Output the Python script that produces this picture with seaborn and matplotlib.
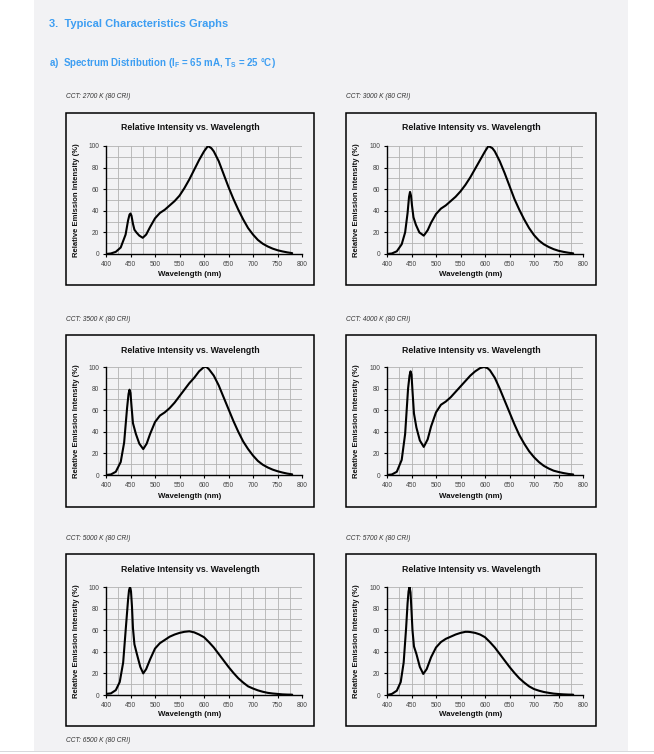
import numpy as np
import pandas as pd
import matplotlib.pyplot as plt
import seaborn as sns
from matplotlib.patches import Rectangle

# ---------------------------------------------------------
# spectra (wavelength nm, relative intensity %)
# ---------------------------------------------------------
wl_2700 = [400, 410, 420, 430, 440, 445, 448, 450, 452, 455, 458, 462, 468, 475, 482, 490, 500, 510, 520, 530,
           540, 550, 560, 570, 580, 590, 600, 608, 615, 620, 630, 640, 650, 660, 670, 680, 690, 700, 710, 720,
           730, 740, 750, 760, 770, 780]
int_2700 = [0, 0.5, 2, 6, 18, 31, 36.5, 37.5, 35.5, 28, 22.5, 20, 17, 15, 18, 25, 33, 38, 41, 45,
            49, 54, 61, 69, 78, 87, 95, 100, 98, 95, 86, 74, 62, 51, 41, 32, 24, 18, 13, 9.5,
            7, 5, 3.5, 2.4, 1.5, 0.8]

wl_3000 = [400, 410, 420, 430, 437, 442, 445, 447, 449, 451, 454, 459, 466, 475, 483, 490, 500, 510, 520, 530,
           540, 550, 560, 570, 580, 590, 600, 607, 615, 620, 630, 640, 650, 660, 670, 680, 690, 700, 710, 720,
           730, 740, 750, 760, 770, 780]
int_3000 = [0, 0.5, 2.5, 9, 20, 38, 53, 57.5, 54, 45, 34, 27, 20, 17, 22, 29, 37, 42, 45, 49,
            53, 58, 64, 71, 79, 87, 95, 100, 98, 95, 86, 75, 63, 51, 41, 32, 24, 17.5, 12.5, 9,
            6.5, 4.5, 3, 2, 1.2, 0.6]

wl_3500 = [400, 410, 420, 430, 437, 443, 446, 448, 450, 452, 455, 461, 468, 476, 483, 490, 500, 510, 520, 530,
           540, 550, 560, 570, 580, 590, 600, 605, 610, 620, 630, 640, 650, 660, 670, 680, 690, 700, 710, 720,
           730, 740, 750, 760, 770, 780]
int_3500 = [0, 0.5, 3, 12, 30, 62, 75, 79, 76, 64, 48, 38, 29, 24, 29, 38, 49, 55, 58, 62,
            67, 73, 79, 85, 90, 96, 100, 100, 98, 92, 83, 72, 61, 50, 40, 31, 24, 18, 13, 9.5,
            7, 5, 3.5, 2.3, 1.3, 0.6]

wl_4000 = [400, 410, 420, 430, 437, 443, 446, 448, 450, 452, 455, 460, 467, 475, 483, 490, 500, 510, 520, 530,
           540, 550, 560, 570, 580, 590, 598, 605, 610, 620, 630, 640, 650, 660, 670, 680, 690, 700, 710, 720,
           730, 740, 750, 760, 770, 780]
int_4000 = [0, 0.5, 3, 14, 38, 80, 92, 96, 93, 78, 57, 44, 32, 26, 33, 45, 58, 65, 68, 72,
            77, 82, 87, 92, 96, 99, 100, 99, 97, 90, 80, 69, 58, 47, 37, 29, 22, 16.5, 12, 8.5,
            6, 4, 2.8, 1.8, 1, 0.5]

wl_5000 = [400, 410, 420, 428, 435, 441, 445, 447, 449, 451, 453, 455, 458, 463, 470, 476, 482, 490, 500, 510,
           520, 530, 540, 550, 560, 570, 580, 590, 600, 610, 620, 630, 640, 650, 660, 670, 680, 690, 700, 710,
           720, 730, 740, 750, 760, 770, 780]
int_5000 = [1, 1.5, 4.5, 12, 30, 65, 88, 97, 100, 96, 82, 62, 47, 38, 26, 20, 24, 33, 43, 48,
            51, 54, 56, 57.5, 58.5, 59, 58, 56, 53.5, 49, 44, 38, 32, 26, 20.5, 15.5, 11.5, 8, 6, 4.3,
            3, 2, 1.4, 1, 0.6, 0.4, 0.3]

wl_5700 = [400, 410, 420, 428, 434, 439, 442, 444, 446, 448, 450, 452, 455, 460, 467, 474, 481, 490, 500, 510,
           520, 530, 540, 550, 560, 565, 570, 580, 590, 600, 610, 620, 630, 640, 650, 660, 670, 680, 690, 700,
           710, 720, 730, 740, 750, 760, 770, 780]
int_5700 = [0, 1, 4, 12, 30, 62, 85, 96, 100, 95, 78, 60, 45, 38, 26, 19.5, 24, 35, 44, 49,
            52, 54, 56, 57.5, 58.5, 58.5, 58.3, 57.5, 56, 53.5, 49, 44, 38, 32, 26, 20.5, 15.5, 11.5, 8, 5.5,
            4, 2.8, 2, 1.3, 0.9, 0.6, 0.4, 0.3]

cct_labels = ['CCT: 2700 K (80 CRI)', 'CCT: 3000 K (80 CRI)', 'CCT: 3500 K (80 CRI)',
              'CCT: 4000 K (80 CRI)', 'CCT: 5000 K (80 CRI)', 'CCT: 5700 K (80 CRI)']
spectra = [(wl_2700, int_2700), (wl_3000, int_3000), (wl_3500, int_3500),
           (wl_4000, int_4000), (wl_5000, int_5000), (wl_5700, int_5700)]
x_ticks = [400, 450, 500, 550, 600, 650, 700, 750, 800]
y_ticks = [0, 20, 40, 60, 80, 100]

# ---------------------------------------------------------
# page setup
# ---------------------------------------------------------
sns.set_style('ticks')
plt.rcParams['font.family'] = ['Liberation Sans', 'DejaVu Sans']
plt.rcParams['mathtext.fontset'] = 'custom'
plt.rcParams['mathtext.rm'] = 'Liberation Sans:bold'

W, H = 654, 754
page = '#f2f2f4'
blue = '#3d9ef2'
fig = plt.figure(figsize=(W / 100, H / 100), dpi=100)
fig.patch.set_facecolor('white')


def fx(px):
    return px / W


def fy(py):
    return 1 - py / H


# gray page sheet
fig.patches.append(Rectangle((fx(34), fy(751)), fx(628) - fx(34), fy(0) - fy(751),
                             transform=fig.transFigure, facecolor=page, edgecolor='none', zorder=-3))
fig.patches.append(Rectangle((fx(0), fy(752)), 1, 1 / H,
                             transform=fig.transFigure, facecolor='#d8d8dc', edgecolor='none', zorder=-3))

fig.text(fx(49), fy(24), '3.  Typical Characteristics Graphs', color=blue, fontsize=8.0,
         fontweight='bold', va='center', ha='left')
fig.text(fx(49), fy(63), r'a)  Spectrum Distribution ($\mathregular{I_F}$ = 65 mA, $\mathregular{T_S}$ = 25 °C)',
         color=blue, fontsize=7.0, fontweight='bold', va='center', ha='left')

box_left = [66, 346]
box_right = [314, 596]
plot_left = [106, 387]
box_top = [113, 335, 554]
plot_top = [146, 367, 587]

for i, (wl, inten) in enumerate(spectra):
    row, col = divmod(i, 2)
    bx0, bx1 = box_left[col], box_right[col]
    by0 = box_top[row]
    by1 = by0 + 172
    px0 = plot_left[col]
    py0 = plot_top[row]

    fig.text(fx(bx0), fy(by0 - 16), cct_labels[i], fontsize=4.8, style='italic',
             color='#333333', va='center', ha='left')

    # chart frame
    fig.patches.append(Rectangle((fx(bx0), fy(by1)), fx(bx1) - fx(bx0), fy(by0) - fy(by1),
                                 transform=fig.transFigure, facecolor=page, edgecolor='black',
                                 linewidth=1.1, zorder=-2))

    ax = fig.add_axes([fx(px0), fy(py0 + 108), 196 / W, 108 / H])
    ax.set_facecolor(page)
    df = pd.DataFrame({'wavelength': wl, 'intensity': inten})
    sns.lineplot(data=df, x='wavelength', y='intensity', ax=ax, color='black', linewidth=1.5, zorder=3)

    ax.set_xlim(400, 800)
    ax.set_ylim(0, 100)
    ax.set_xticks(x_ticks)
    ax.set_yticks(y_ticks)
    ax.set_xticks(np.arange(400, 801, 25), minor=True)
    ax.set_yticks(np.arange(0, 101, 10), minor=True)
    ax.grid(True, which='both', color='#b2b2b2', linewidth=0.6)
    ax.tick_params(which='minor', length=0)
    ax.tick_params(which='major', length=2, width=0.8, color='black', labelsize=4.8,
                   labelcolor='#444444', pad=3)
    for s in ['top', 'right']:
        ax.spines[s].set_visible(False)
    for s in ['left', 'bottom']:
        ax.spines[s].set_color('black')
        ax.spines[s].set_linewidth(1.0)
    ax.set_xlabel('')
    ax.set_ylabel('')

    cx = (bx0 + bx1) / 2
    fig.text(fx(cx), fy(by0 + 15), 'Relative Intensity vs. Wavelength', fontsize=6.3,
             fontweight='bold', ha='center', va='center', color='#111111')
    fig.text(fx(cx), fy(by0 + 161), 'Wavelength (nm)', fontsize=5.7,
             fontweight='bold', ha='center', va='center', color='#111111')
    fig.text(fx(bx0 + 11), fy(py0 + 54), 'Relative Emission Intensity (%)', fontsize=5.5,
             fontweight='bold', ha='center', va='center', rotation=90, color='#111111')

fig.text(fx(66), fy(740), 'CCT: 6500 K (80 CRI)', fontsize=4.8, style='italic',
         color='#333333', va='center', ha='left')

plt.savefig('out.png', dpi=100, facecolor=fig.get_facecolor())
